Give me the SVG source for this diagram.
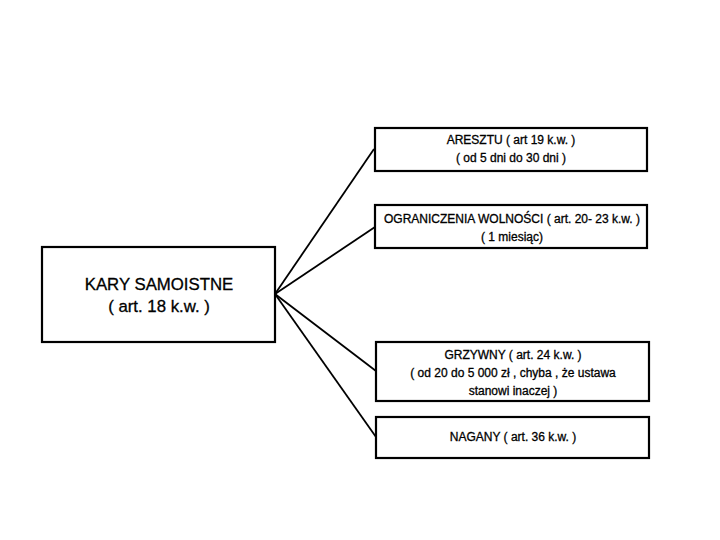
<svg xmlns="http://www.w3.org/2000/svg" width="720" height="540" viewBox="0 0 720 540">
<style>
.box{fill:#fff;stroke:#000;stroke-width:2.2}
.t{font-family:"Liberation Sans",Arial,sans-serif;font-size:12px;fill:#000;stroke:#000;stroke-width:0.3;text-anchor:middle}
.tm{font-family:"Liberation Sans",Arial,sans-serif;font-size:16.8px;fill:#000;stroke:#000;stroke-width:0.3;text-anchor:middle}
.c{stroke:#000;stroke-width:1.8;fill:none}
</style>
<rect width="720" height="540" fill="#fff"/>
<g id="connectors">
<line class="c" x1="275" y1="294" x2="374" y2="149"/>
<line class="c" x1="275" y1="294" x2="375" y2="227"/>
<line class="c" x1="275" y1="294" x2="376" y2="371"/>
<line class="c" x1="275" y1="294" x2="376" y2="437"/>
</g>
<g id="main">
<rect class="box" x="42" y="247" width="233" height="95"/>
<text class="tm" x="159" y="290">KARY SAMOISTNE</text>
<text class="tm" x="159" y="312">( art. 18 k.w. )</text>
</g>
<g id="aresztu">
<rect class="box" x="375" y="128" width="272" height="43"/>
<text class="t" x="511" y="144">ARESZTU ( art 19 k.w. )</text>
<text class="t" x="511" y="162">( od 5 dni do 30 dni )</text>
</g>
<g id="ograniczenia">
<rect class="box" x="375" y="205" width="272" height="43"/>
<text class="t" x="512" y="223">OGRANICZENIA WOLNOŚCI ( art. 20- 23 k.w. )</text>
<text class="t" x="512" y="241">( 1 miesiąc)</text>
</g>
<g id="grzywny">
<rect class="box" x="376" y="342" width="273" height="59"/>
<text class="t" x="513" y="359">GRZYWNY ( art. 24 k.w. )</text>
<text class="t" x="513" y="377">( od 20 do 5 000 zł , chyba , że ustawa</text>
<text class="t" x="513" y="395">stanowi inaczej )</text>
</g>
<g id="nagany">
<rect class="box" x="376" y="417" width="273" height="41"/>
<text class="t" x="513" y="441">NAGANY ( art. 36 k.w. )</text>
</g>
</svg>
